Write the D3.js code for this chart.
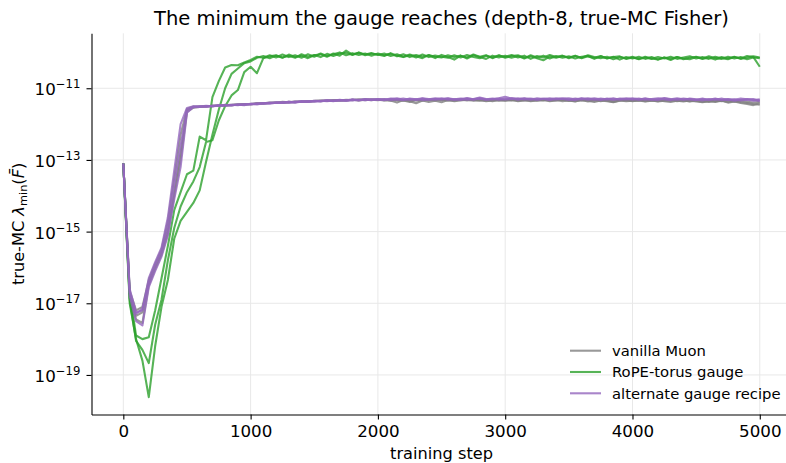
<!DOCTYPE html>
<html><head><meta charset="utf-8">
<script src="https://cdn.jsdelivr.net/npm/d3@7"></script>
<style>
body{margin:0;background:#fff;}
svg{display:block;font-family:"DejaVu Sans",sans-serif;}
</style></head><body>
<svg id="chart" width="786" height="463"></svg>
<script>
// Evaluation steps (the Fisher minimum is measured every 50 training steps)
const evalSteps = d3.range(0, 5001, 50);

// log10 of the true-MC λ_min(F̄), one array per seed; rows of 10 = 500 steps
const vanillaSeed0 = [
  -13.10,-16.65,-17.20,-17.10,-16.35,-15.90,-15.50,-14.70,-13.50,-12.30,
  -11.58,-11.51,-11.52,-11.50,-11.49,-11.48,-11.47,-11.47,-11.45,-11.45,
  -11.44,-11.43,-11.42,-11.41,-11.40,-11.40,-11.39,-11.38,-11.37,-11.37,
  -11.36,-11.35,-11.35,-11.34,-11.33,-11.34,-11.32,-11.33,-11.31,-11.32,
  -11.33,-11.31,-11.34,-11.40,-11.33,-11.36,-11.42,-11.34,-11.38,-11.35,
  -11.39,-11.33,-11.36,-11.34,-11.32,-11.35,-11.33,-11.36,-11.34,-11.32,
  -11.34,-11.32,-11.35,-11.33,-11.36,-11.34,-11.31,-11.35,-11.33,-11.36,
  -11.34,-11.37,-11.33,-11.35,-11.38,-11.34,-11.36,-11.39,-11.35,-11.33,
  -11.36,-11.34,-11.37,-11.35,-11.33,-11.36,-11.38,-11.35,-11.37,-11.34,
  -11.37,-11.39,-11.36,-11.38,-11.35,-11.40,-11.37,-11.41,-11.44,-11.47,
  -11.42];
const vanillaSeed1 = [
  -13.10,-16.75,-17.35,-17.25,-16.40,-16.00,-15.60,-14.95,-13.90,-12.80,
  -11.62,-11.53,-11.51,-11.51,-11.49,-11.49,-11.47,-11.46,-11.46,-11.44,
  -11.44,-11.42,-11.42,-11.40,-11.41,-11.38,-11.39,-11.37,-11.38,-11.36,
  -11.36,-11.34,-11.35,-11.33,-11.34,-11.32,-11.33,-11.31,-11.33,-11.31,
  -11.32,-11.34,-11.31,-11.33,-11.35,-11.32,-11.34,-11.31,-11.33,-11.30,
  -11.33,-11.31,-11.34,-11.32,-11.30,-11.33,-11.31,-11.34,-11.32,-11.35,
  -11.32,-11.34,-11.31,-11.33,-11.35,-11.32,-11.34,-11.31,-11.33,-11.32,
  -11.35,-11.32,-11.34,-11.31,-11.33,-11.36,-11.33,-11.35,-11.32,-11.34,
  -11.33,-11.35,-11.32,-11.34,-11.36,-11.33,-11.35,-11.32,-11.34,-11.36,
  -11.33,-11.35,-11.38,-11.34,-11.36,-11.33,-11.37,-11.35,-11.38,-11.40,
  -11.38];
const vanillaSeed2 = [
  -13.10,-16.85,-17.45,-17.55,-16.50,-16.05,-15.65,-15.05,-14.00,-13.00,
  -11.66,-11.54,-11.52,-11.51,-11.50,-11.48,-11.48,-11.47,-11.46,-11.45,
  -11.45,-11.43,-11.43,-11.41,-11.40,-11.41,-11.38,-11.39,-11.37,-11.38,
  -11.35,-11.36,-11.34,-11.35,-11.33,-11.34,-11.32,-11.34,-11.32,-11.33,
  -11.31,-11.33,-11.35,-11.32,-11.34,-11.38,-11.33,-11.35,-11.32,-11.34,
  -11.32,-11.35,-11.33,-11.31,-11.34,-11.32,-11.35,-11.33,-11.36,-11.33,
  -11.35,-11.33,-11.36,-11.34,-11.32,-11.35,-11.33,-11.36,-11.34,-11.32,
  -11.34,-11.36,-11.33,-11.37,-11.34,-11.32,-11.35,-11.38,-11.34,-11.36,
  -11.35,-11.33,-11.36,-11.34,-11.37,-11.35,-11.33,-11.36,-11.34,-11.37,
  -11.35,-11.38,-11.35,-11.37,-11.34,-11.38,-11.36,-11.39,-11.41,-11.44,
  -11.46];

const ropeSeed0 = [
  -13.10,-16.70,-17.90,-18.00,-17.95,-17.20,-16.30,-15.40,-14.40,-13.90,
  -13.40,-13.30,-12.35,-12.45,-11.25,-10.80,-10.42,-10.35,-10.36,-10.28,
  -10.21,-10.12,-10.15,-10.08,-10.14,-10.06,-10.13,-10.08,-10.15,-10.05,
  -10.12,-10.03,-10.10,-10.05,-10.00,-10.08,-10.02,-10.07,-10.03,-10.09,
  -10.03,-10.08,-10.04,-10.11,-10.05,-10.13,-10.07,-10.12,-10.08,-10.16,
  -10.07,-10.13,-10.20,-10.09,-10.14,-10.06,-10.12,-10.08,-10.16,-10.09,
  -10.13,-10.07,-10.14,-10.09,-10.18,-10.10,-10.14,-10.07,-10.13,-10.09,
  -10.16,-10.10,-10.15,-10.08,-10.13,-10.16,-10.12,-10.19,-10.13,-10.17,
  -10.12,-10.19,-10.14,-10.18,-10.13,-10.17,-10.12,-10.18,-10.14,-10.11,
  -10.17,-10.13,-10.18,-10.12,-10.16,-10.19,-10.13,-10.17,-10.10,-10.13,
  -10.40];
const ropeSeed1 = [
  -13.10,-16.90,-18.05,-18.30,-18.67,-17.60,-16.90,-15.80,-14.90,-14.30,
  -13.90,-13.60,-13.20,-12.50,-12.45,-11.90,-11.50,-11.20,-11.05,-10.55,
  -10.40,-10.58,-10.16,-10.11,-10.08,-10.14,-10.09,-10.15,-10.05,-10.12,
  -10.07,-10.13,-10.04,-10.10,-10.03,-10.01,-10.07,-10.00,-10.06,-10.02,
  -10.07,-10.03,-10.10,-10.05,-10.12,-10.06,-10.11,-10.16,-10.07,-10.12,
  -10.14,-10.08,-10.13,-10.09,-10.17,-10.08,-10.13,-10.18,-10.09,-10.14,
  -10.09,-10.15,-10.10,-10.17,-10.08,-10.14,-10.09,-10.17,-10.10,-10.15,
  -10.11,-10.17,-10.12,-10.10,-10.18,-10.11,-10.16,-10.12,-10.20,-10.13,
  -10.17,-10.12,-10.18,-10.13,-10.20,-10.14,-10.21,-10.13,-10.17,-10.19,
  -10.13,-10.18,-10.14,-10.20,-10.13,-10.17,-10.12,-10.18,-10.14,-10.11,
  -10.14];
const ropeSeed2 = [
  -13.10,-17.00,-18.00,-18.60,-19.62,-18.20,-17.10,-16.35,-15.20,-14.70,
  -14.45,-14.20,-13.85,-13.05,-12.30,-11.60,-11.00,-10.60,-10.45,-10.30,
  -10.25,-10.15,-10.10,-10.16,-10.09,-10.15,-10.06,-10.13,-10.09,-10.16,
  -10.08,-10.05,-10.12,-10.03,-10.09, -9.95,-10.06,-10.01,-10.08,-10.03,
  -10.06,-10.10,-10.02,-10.09,-10.13,-10.08,-10.14,-10.06,-10.13,-10.09,
  -10.12,-10.15,-10.08,-10.14,-10.07,-10.13,-10.16,-10.09,-10.14,-10.08,
  -10.15,-10.10,-10.08,-10.15,-10.11,-10.16,-10.22,-10.11,-10.15,-10.10,
  -10.14,-10.09,-10.16,-10.11,-10.15,-10.10,-10.17,-10.13,-10.11,-10.18,
  -10.14,-10.18,-10.12,-10.17,-10.20,-10.14,-10.18,-10.13,-10.19,-10.15,
  -10.12,-10.17,-10.11,-10.16,-10.18,-10.12,-10.17,-10.13,-10.19,-10.14,
  -10.16];

const altSeed0 = [
  -13.10,-16.60,-17.25,-17.20,-16.30,-15.85,-15.45,-14.60,-13.30,-12.00,
  -11.55,-11.50,-11.51,-11.49,-11.50,-11.47,-11.48,-11.46,-11.47,-11.44,
  -11.45,-11.42,-11.43,-11.40,-11.41,-11.39,-11.40,-11.37,-11.38,-11.36,
  -11.37,-11.35,-11.36,-11.34,-11.35,-11.33,-11.34,-11.32,-11.33,-11.31,
  -11.32,-11.30,-11.33,-11.31,-11.29,-11.32,-11.30,-11.33,-11.31,-11.28,
  -11.31,-11.29,-11.32,-11.30,-11.27,-11.31,-11.29,-11.32,-11.30,-11.28,
  -11.24,-11.29,-11.31,-11.28,-11.30,-11.32,-11.29,-11.31,-11.28,-11.30,
  -11.32,-11.29,-11.31,-11.28,-11.30,-11.33,-11.29,-11.31,-11.30,-11.28,
  -11.31,-11.29,-11.32,-11.30,-11.28,-11.31,-11.33,-11.30,-11.32,-11.29,
  -11.31,-11.34,-11.30,-11.32,-11.29,-11.33,-11.31,-11.34,-11.32,-11.35,
  -11.33];
const altSeed1 = [
  -13.10,-16.70,-17.30,-17.15,-16.45,-15.95,-15.55,-14.85,-13.70,-12.60,
  -11.60,-11.52,-11.50,-11.52,-11.48,-11.49,-11.46,-11.48,-11.45,-11.46,
  -11.43,-11.44,-11.41,-11.42,-11.39,-11.40,-11.38,-11.39,-11.36,-11.37,
  -11.35,-11.36,-11.33,-11.35,-11.32,-11.34,-11.31,-11.33,-11.30,-11.32,
  -11.31,-11.33,-11.30,-11.28,-11.32,-11.30,-11.33,-11.29,-11.32,-11.30,
  -11.28,-11.32,-11.30,-11.33,-11.29,-11.31,-11.28,-11.31,-11.29,-11.32,
  -11.30,-11.27,-11.31,-11.29,-11.32,-11.28,-11.30,-11.33,-11.30,-11.29,
  -11.31,-11.33,-11.28,-11.30,-11.32,-11.29,-11.31,-11.28,-11.32,-11.30,
  -11.28,-11.31,-11.29,-11.32,-11.30,-11.27,-11.30,-11.32,-11.29,-11.31,
  -11.33,-11.30,-11.32,-11.29,-11.33,-11.31,-11.35,-11.32,-11.30,-11.33,
  -11.31];
const altSeed2 = [
  -13.10,-16.80,-17.50,-17.62,-16.55,-16.10,-15.70,-15.10,-14.10,-13.20,
  -11.68,-11.53,-11.52,-11.50,-11.51,-11.48,-11.49,-11.47,-11.46,-11.47,
  -11.44,-11.45,-11.42,-11.43,-11.40,-11.41,-11.38,-11.40,-11.37,-11.38,
  -11.36,-11.37,-11.34,-11.36,-11.33,-11.35,-11.32,-11.34,-11.31,-11.33,
  -11.30,-11.32,-11.29,-11.31,-11.33,-11.29,-11.31,-11.28,-11.30,-11.32,
  -11.30,-11.28,-11.31,-11.29,-11.32,-11.30,-11.26,-11.30,-11.31,-11.29,
  -11.31,-11.30,-11.28,-11.31,-11.29,-11.31,-11.30,-11.28,-11.31,-11.29,
  -11.28,-11.31,-11.29,-11.32,-11.28,-11.31,-11.30,-11.32,-11.29,-11.31,
  -11.30,-11.32,-11.29,-11.31,-11.33,-11.29,-11.31,-11.28,-11.31,-11.30,
  -11.32,-11.29,-11.33,-11.30,-11.32,-11.30,-11.32,-11.29,-11.31,-11.30,
  -11.36];

const seriesNames  = ["vanilla Muon", "RoPE-torus gauge", "alternate gauge recipe"];
const seriesColors = ["#7f7f7f", "#2ca02c", "#9467bd"];
const seriesRuns   = [
  [vanillaSeed0, vanillaSeed1, vanillaSeed2],
  [ropeSeed0, ropeSeed1, ropeSeed2],
  [altSeed0, altSeed1, altSeed2]
];
const xTicks = [0, 1000, 2000, 3000, 4000, 5000];
const yTickExponents = [-19, -17, -15, -13, -11];

// ---- layout ----
const svg = d3.select("#chart");
const plot = {left: 91.5, right: 791.6, top: 33.3, bottom: 414.5};

// x: step range with 5% padding on each side
const stepExtent = d3.extent(evalSteps);
const stepPad = 0.05 * (stepExtent[1] - stepExtent[0]);
const x = d3.scaleLinear()
  .domain([stepExtent[0] - stepPad, stepExtent[1] + stepPad])
  .range([plot.left, plot.right]);

// y: log scale, padded 5% in decades
const allLog = seriesRuns.flat(2);
const logExtent = d3.extent(allLog);
const logPad = 0.05 * (logExtent[1] - logExtent[0]);
const y = d3.scaleLog()
  .domain([10 ** (logExtent[0] - logPad), 10 ** (logExtent[1] + logPad)])
  .range([plot.bottom, plot.top]);

const gridColor = "#e8e8e8";

// grid
const grid = svg.append("g");
grid.selectAll("line.gx").data(xTicks).join("line")
  .attr("x1", d => x(d)).attr("x2", d => x(d))
  .attr("y1", plot.top).attr("y2", plot.bottom)
  .attr("stroke", gridColor).attr("stroke-width", 1);
grid.selectAll("line.gy").data(yTickExponents).join("line")
  .attr("y1", d => y(10 ** d)).attr("y2", d => y(10 ** d))
  .attr("x1", plot.left).attr("x2", plot.right)
  .attr("stroke", gridColor).attr("stroke-width", 1);

// lines
const line = d3.line()
  .x((d, i) => x(evalSteps[i]))
  .y(d => y(10 ** d));

svg.append("defs").append("clipPath").attr("id", "clip")
  .append("rect").attr("x", plot.left).attr("y", plot.top)
  .attr("width", plot.right - plot.left).attr("height", plot.bottom - plot.top);

const lines = svg.append("g").attr("clip-path", "url(#clip)");
seriesRuns.forEach((runs, s) => {
  runs.forEach(run => {
    lines.append("path")
      .datum(run)
      .attr("d", line)
      .attr("fill", "none")
      .attr("stroke", seriesColors[s])
      .attr("stroke-opacity", 0.8)
      .attr("stroke-width", 2.1)
      .attr("stroke-linejoin", "round")
      .attr("stroke-linecap", "butt");
  });
});

// axes
const tickFont = 16.7;
const xAxis = svg.append("g")
  .attr("transform", `translate(0,${plot.bottom})`)
  .call(d3.axisBottom(x).tickValues(xTicks).tickSize(5).tickSizeOuter(0)
    .tickPadding(6).tickFormat(d3.format("d")));
xAxis.select(".domain").attr("stroke", "#000").attr("stroke-width", 1.1);
xAxis.selectAll(".tick line").attr("stroke", "#000").attr("stroke-width", 1.1);
xAxis.selectAll(".tick text")
  .attr("font-size", tickFont).attr("font-family", "DejaVu Sans").attr("fill", "#000");

const yAxis = svg.append("g")
  .attr("transform", `translate(${plot.left},0)`)
  .call(d3.axisLeft(y).tickValues(yTickExponents.map(e => 10 ** e)).tickSize(5).tickSizeOuter(0)
    .tickPadding(6).tickFormat(""));
yAxis.select(".domain").attr("stroke", "#000").attr("stroke-width", 1.1);
yAxis.selectAll(".tick line").attr("stroke", "#000").attr("stroke-width", 1.1);
yAxis.selectAll(".tick text").each(function(d) {
  const t = d3.select(this)
    .attr("font-size", tickFont).attr("font-family", "DejaVu Sans").attr("fill", "#000")
    .attr("dy", "0.40em");
  t.append("tspan").text("10");
  t.append("tspan").attr("font-size", tickFont * 0.7).attr("dy", "-0.62em")
    .text("\u2212" + Math.abs(Math.round(Math.log10(d))));
});

// axis labels
const labelFont = 16.2;
svg.append("text")
  .attr("x", (plot.left + plot.right) / 2).attr("y", 459)
  .attr("text-anchor", "middle").attr("font-size", labelFont).text("training step");

const yl = svg.append("text")
  .attr("transform", `translate(24,${(plot.top + plot.bottom) / 2}) rotate(-90)`)
  .attr("text-anchor", "middle").attr("font-size", labelFont);
yl.append("tspan").text("true-MC ");
yl.append("tspan").attr("font-style", "italic").text("λ");
yl.append("tspan").attr("font-size", labelFont * 0.7).attr("dy", 3).text("min");
yl.append("tspan").attr("dy", -3).text("(");
yl.append("tspan").attr("font-style", "italic").text("F\u0304");
yl.append("tspan").text(")");

// title
svg.append("text")
  .attr("x", (plot.left + plot.right) / 2).attr("y", 24.5)
  .attr("text-anchor", "middle").attr("font-size", 19.5)
  .text("The minimum the gauge reaches (depth-8, true-MC Fisher)");

// legend
const legend = svg.append("g");
const legRowY = [350.7, 372.0, 393.3];
seriesNames.forEach((name, i) => {
  legend.append("line")
    .attr("x1", 570).attr("x2", 601)
    .attr("y1", legRowY[i]).attr("y2", legRowY[i])
    .attr("stroke", seriesColors[i]).attr("stroke-opacity", 0.8).attr("stroke-width", 2.1);
  legend.append("text")
    .attr("x", 612).attr("y", legRowY[i]).attr("dy", "0.36em")
    .attr("font-size", 14.8).text(name);
});
</script>
</body></html>
